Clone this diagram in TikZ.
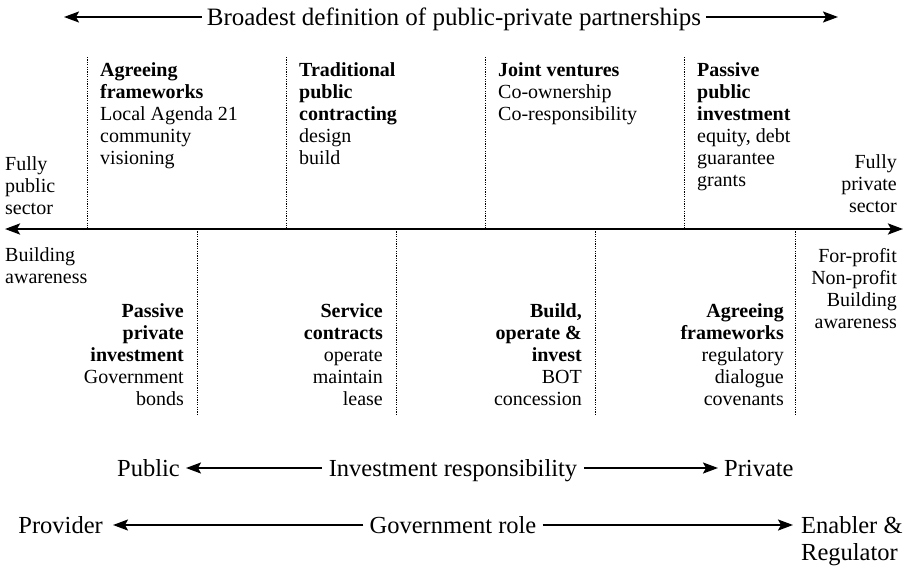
\documentclass[tikz,border=0pt]{standalone}
\usepackage{fontspec}
\setmainfont{Liberation Serif}
\usetikzlibrary{arrows.meta}
\begin{document}
\begin{tikzpicture}[x=1pt,y=-1pt,
  body/.style={font=\fontsize{20}{22}\selectfont, inner sep=0pt},
  lblock/.style={body, anchor=north west, align=left},
  rblock/.style={body, anchor=north east, align=right},
  big/.style={font=\fontsize{24.5}{27}\selectfont, inner ysep=0pt, text height=16pt, text depth=0pt},
  bigblock/.style={font=\fontsize{24.5}{27}\selectfont, inner ysep=0pt, align=left},
  sep/.style={line width=0.9pt, dash pattern=on 1.1pt off 1.3pt},
  tip/.tip={Stealth[length=15pt,width=11pt,inset=3pt]},
  arr/.style={line width=2pt, -tip},
  axis/.style={line width=2.5pt, tip-tip},
]
\useasboundingbox (0,0) rectangle (908,568);

% title with arrows
\node[big, font=\fontsize{25}{27}\selectfont, inner xsep=5pt, anchor=base] (title) at (454,25) {Broadest definition of public-private partnerships};
\coordinate (tL) at (64,17);
\coordinate (tR) at (838,17);
\draw[arr] (title.west) -- (tL);
\draw[arr] (title.east) -- (tR);

% main axis
\coordinate (axL) at (5,229);
\coordinate (axR) at (903,229);
\draw[axis] (axL) -- (axR);

% dotted dividers above axis
\foreach \x in {87,286,485,684} \draw[sep] (\x,57) -- (\x,229);
% dotted dividers below axis
\foreach \x in {197,396,595,795} \draw[sep] (\x,229) -- (\x,415);

% above axis texts
\node[lblock] (fpub) at (5,154.6) {\strut Fully\\public\\sector};
\node[rblock] (fpriv) at (897,152.6) {\strut Fully\\private\\sector};
\node[lblock] (agree) at (100,60.6) {\strut\textbf{Agreeing}\\\textbf{frameworks}\\Local Agenda 21\\community\\visioning};
\node[lblock] (trad) at (299,60.6) {\strut\textbf{Traditional}\\\textbf{public}\\\textbf{contracting}\\design\\build};
\node[lblock] (joint) at (498,60.6) {\strut\textbf{Joint ventures}\\Co-ownership\\Co-responsibility};
\node[lblock] (ppub) at (697,60.6) {\strut\textbf{Passive}\\\textbf{public}\\\textbf{investment}\\equity, debt\\guarantee\\grants};

% below axis texts
\node[lblock] (baw) at (5,245.6) {\strut Building\\awareness};
\node[rblock] (ppi) at (184,301.6) {\strut\textbf{Passive}\\\textbf{private}\\\textbf{investment}\\Government\\bonds};
\node[rblock] (serv) at (383,301.6) {\strut\textbf{Service}\\\textbf{contracts}\\operate\\maintain\\lease};
\node[rblock] (boi) at (582,301.6) {\strut\textbf{Build,}\\\textbf{operate \&}\\\textbf{invest}\\BOT\\concession};
\node[rblock] (agr2) at (784,301.6) {\strut\textbf{Agreeing}\\\textbf{frameworks}\\regulatory\\dialogue\\covenants};
\node[rblock] (fp) at (897,246.6) {\strut For-profit\\Non-profit\\Building\\awareness};

% investment responsibility
\node[big, anchor=base, inner xsep=7pt] (inv) at (453,476) {Investment responsibility};
\node[big, anchor=base east, inner xsep=6pt] (pub) at (186,476) {Public};
\node[big, anchor=base west, inner xsep=6pt] (priv) at (718,476) {Private};
\draw[arr] (inv.west) -- (pub.east);
\draw[arr] (inv.east) -- (priv.west);

% government role
\node[big, anchor=base, inner xsep=6pt] (gov) at (453,533) {Government role};
\node[big, anchor=base east, inner xsep=10pt] (prov) at (113,533) {Provider};
\node[bigblock, anchor=north west, inner xsep=8pt] (enab) at (793,514.1) {\strut Enabler \&\\Regulator};
\draw[arr] (gov.west) -- (prov.east);
\draw[arr] (gov.east) -- (gov.east -| enab.west);
\end{tikzpicture}
\end{document}
